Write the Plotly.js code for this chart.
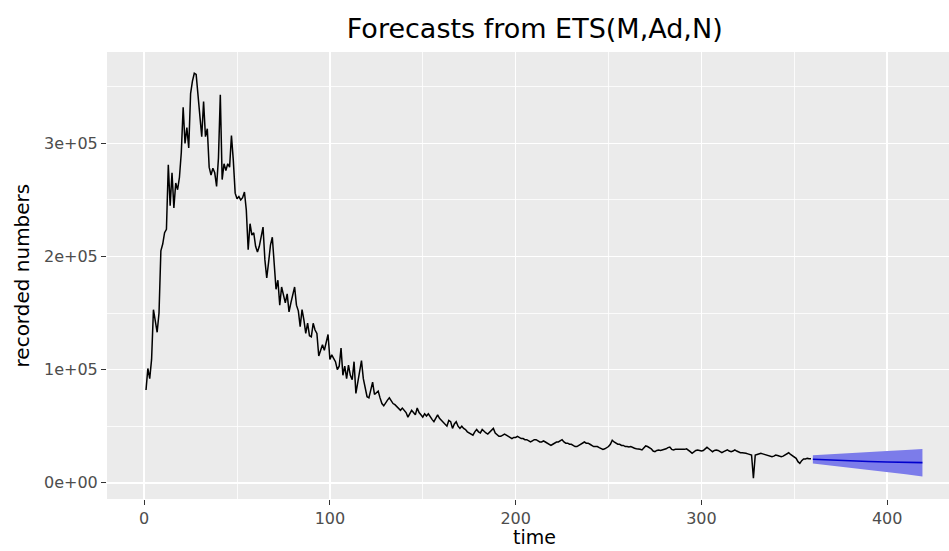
<!DOCTYPE html>
<html>
<head>
<meta charset="utf-8">
<script src="https://cdn.plot.ly/plotly-3.0.1.min.js"></script>
<style>html,body{margin:0;padding:0;background:#fff;}#chart{width:949px;height:551px;}</style>
</head>
<body>
<div id="chart"></div>
<script>
// observed series (t = 1 .. 359)
const startTime = 1;
const recorded = [
 82000,101000,92000,109000,153000,141000,133000,150000,205000,211000,
 221000,224000,281000,245000,274000,243000,265000,259000,270000,292000,
 332000,300000,314000,296000,344000,355000,362000,361000,341000,321000,
 306000,337000,306000,313000,279000,272000,278000,274000,262000,287000,
 343000,268000,282000,276000,282000,279000,307000,285000,256000,251000,
 253000,250000,252000,257000,241000,206000,229000,219000,221000,209000,
 204000,209000,218000,226000,197000,181000,195000,210000,217000,194000,
 171000,179000,157000,173000,166000,159000,167000,151000,159000,166000,
 173000,157000,152000,138000,153000,144000,132000,141000,130000,129000,
 141000,135000,132000,112000,118000,122000,117000,125000,131000,109000,
 113000,110000,107000,100000,103000,119000,95000,103000,92000,104000,
 95000,91000,107000,79000,88000,97000,108000,92000,85000,76000,
 75000,83000,89000,78000,80000,81000,75000,70000,68000,71000,
 73000,75000,72000,70000,69000,67000,66000,64000,66000,64000,
 62000,58000,61000,64000,62000,60000,66000,62000,60000,58000,
 61000,59000,61000,58000,56000,54000,57000,60000,57000,55000,
 53000,51000,50000,55000,54000,48000,52000,54000,50000,48000,
 50000,48000,47000,45000,44000,43000,42000,45000,47000,45000,
 44000,47000,45000,44000,43000,45000,46000,48000,44000,42000,
 41000,41000,42000,43000,42000,41000,40000,39000,40000,40000,
 41000,40000,39000,39000,38000,38000,37000,36000,37000,38000,
 38000,37000,36000,36000,37000,36000,35000,34000,33000,34000,
 35000,36000,36000,37000,38000,36000,35000,35000,34000,34000,
 33000,32000,32000,33000,34000,35000,36000,35000,35000,34000,
 33000,32000,32000,32000,31000,30000,29500,30000,31000,32000,
 34000,37500,36000,35000,34000,34000,33000,33000,32000,32000,
 31500,32000,31000,30500,30000,30000,29500,29000,30500,32500,
 32000,31000,30000,28000,27500,28500,29000,28500,29000,29000,
 30000,31000,31500,29500,29000,29500,29500,29000,29000,29000,
 29500,30000,29000,27500,26000,27500,28500,29000,28500,28000,
 28500,30000,31300,30000,28500,27400,28500,29000,28500,27500,
 26500,27500,28500,29000,28000,27400,28000,29000,28000,27000,
 26500,26500,26500,26000,25500,25000,24500,3900,24500,25000,
 25500,26000,25500,25000,24500,24000,23500,23000,23500,24500,
 24000,23500,23000,23500,24500,25500,26500,25000,24000,23000,
 21500,18600,17100,19500,21000,21000,21500,21200,21200
];
const time = recorded.map((_, i) => startTime + i);

// forecast (read at sampled horizons)
const fcTime  = [360, 370, 380, 390, 400, 410, 419];
const fcMean  = [20700, 19900, 19200, 18700, 18300, 18000, 17800];
const fcUpper = [24300, 25400, 26400, 27300, 28100, 29000, 29700];
const fcLower = [16900, 15100, 13200, 11300, 9300, 7400, 5400];

const xTicks = [0, 100, 200, 300, 400];
const yTicks = [0, 100000, 200000, 300000];
const yTickText = ['0e+00', '1e+05', '2e+05', '3e+05'];

const FONT = 'DejaVu Sans, Arial, sans-serif';

const traces = [
  {x: fcTime, y: fcLower, type: 'scatter', mode: 'lines', line: {width: 0, color: 'rgba(0,0,0,0)'}, hoverinfo: 'skip', showlegend: false},
  {x: fcTime, y: fcUpper, type: 'scatter', mode: 'lines', fill: 'tonexty', fillcolor: 'rgb(124,124,234)', line: {width: 0, color: 'rgba(0,0,0,0)'}, showlegend: false},
  {x: fcTime, y: fcMean, type: 'scatter', mode: 'lines', line: {color: '#0000CD', width: 1.6}, showlegend: false},
  {x: time, y: recorded, type: 'scatter', mode: 'lines', line: {color: '#000000', width: 1.5}, showlegend: false}
];

const layout = {
  width: 949, height: 551,
  margin: {l: 107, r: 0, t: 52, b: 52, pad: 0},
  paper_bgcolor: '#ffffff',
  plot_bgcolor: '#EBEBEB',
  showlegend: false,
  title: {
    text: 'Forecasts from ETS(M,Ad,N)',
    font: {family: FONT, size: 27, color: '#000000'},
    xref: 'paper', x: 0.508, xanchor: 'center',
    yref: 'container', y: 0.949, yanchor: 'middle'
  },
  xaxis: {
    range: [-20, 433.3],
    tickvals: xTicks,
    ticktext: xTicks.map(String),
    ticks: 'outside', ticklen: 5, tickwidth: 1.1, tickcolor: '#333333',
    tickfont: {family: FONT, size: 16, color: '#4D4D4D'},
    showgrid: true, gridcolor: '#FFFFFF', gridwidth: 1.6,
    minor: {dtick: 50, tick0: 0, showgrid: true, gridcolor: '#FFFFFF', gridwidth: 0.8, ticks: ''},
    zeroline: false, showline: false
  },
  yaxis: {
    range: [-14400, 380800],
    tickvals: yTicks,
    ticktext: yTickText,
    ticks: 'outside', ticklen: 5, tickwidth: 1.1, tickcolor: '#333333',
    tickfont: {family: FONT, size: 16, color: '#4D4D4D'},
    showgrid: true, gridcolor: '#FFFFFF', gridwidth: 1.6,
    minor: {dtick: 50000, tick0: 0, showgrid: true, gridcolor: '#FFFFFF', gridwidth: 0.8, ticks: ''},
    zeroline: false, showline: false
  },
  annotations: [
    {text: 'time', xref: 'paper', yref: 'paper', x: 0.508, y: -0.086, xanchor: 'center', yanchor: 'middle', showarrow: false,
     font: {family: FONT, size: 19, color: '#000000'}},
    {text: 'recorded numbers', xref: 'paper', yref: 'paper', x: -0.101, y: 0.5, xanchor: 'center', yanchor: 'middle', textangle: -90, showarrow: false,
     font: {family: FONT, size: 20, color: '#000000'}}
  ]
};

Plotly.newPlot('chart', traces, layout, {displayModeBar: false, staticPlot: true});
</script>
</body>
</html>
